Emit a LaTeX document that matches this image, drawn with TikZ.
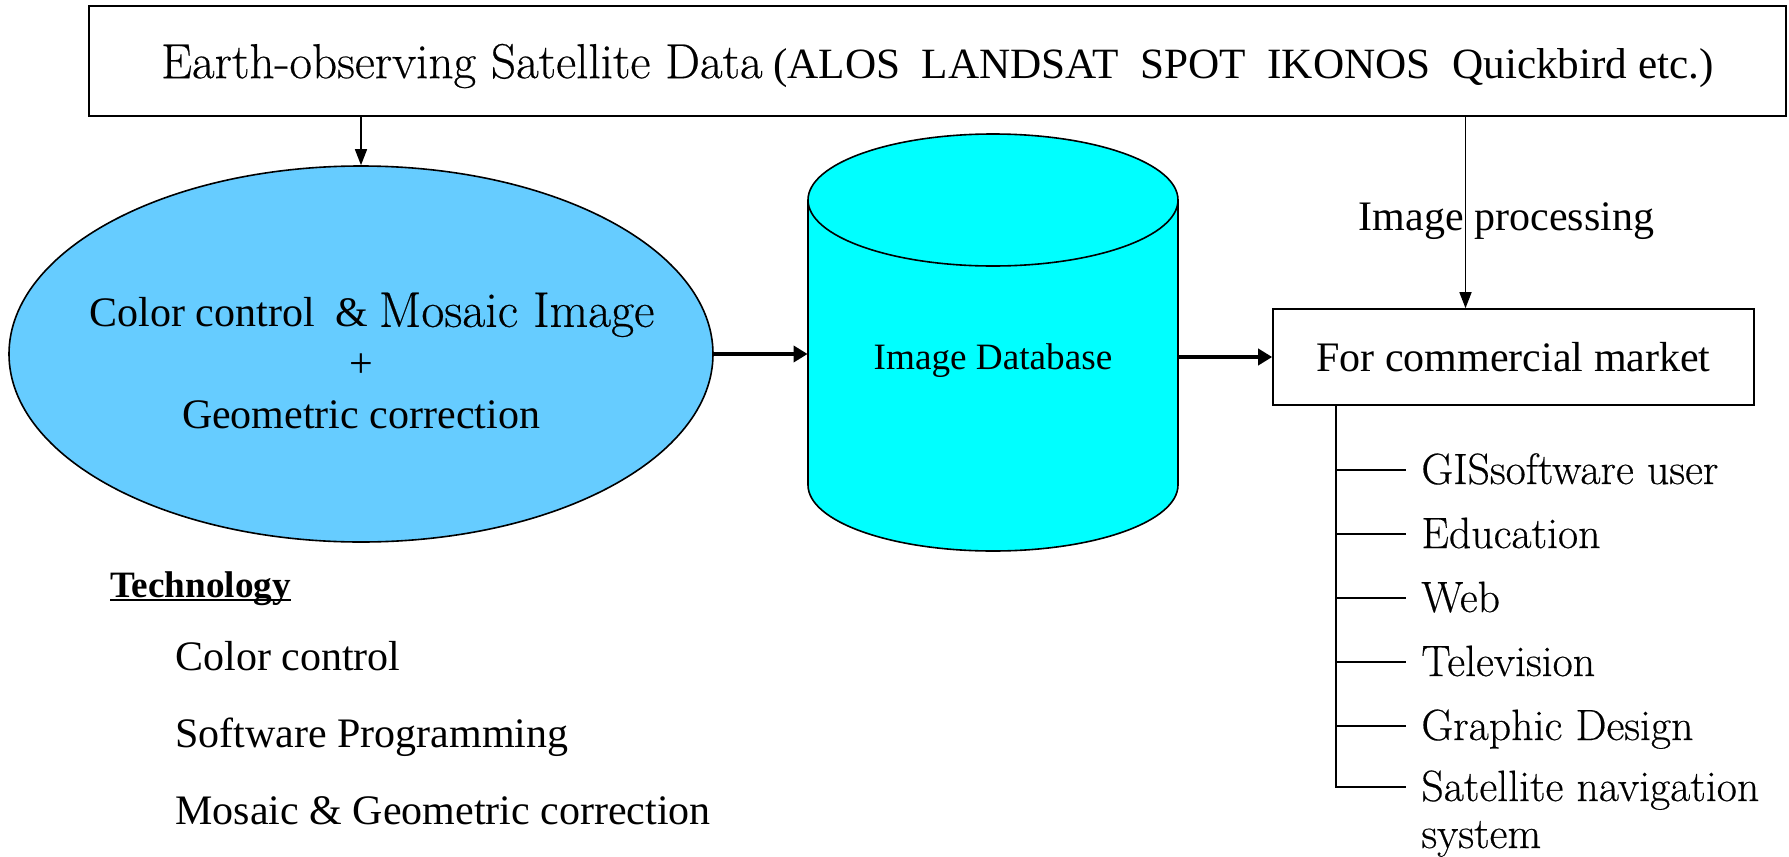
\documentclass[tikz,border=0pt]{standalone}
\usepackage{fontspec}
\usetikzlibrary{shapes.geometric,arrows.meta}
\newfontfamily\tms{Liberation Serif}
\newfontfamily\wide[FakeBold=0.4]{Latin Modern Roman}
\definecolor{ovalblue}{HTML}{66CCFF}
\definecolor{dbcyan}{HTML}{00FFFF}
\newcommand\techul[1]{\setbox0=\hbox{#1}\rlap{\rule[-2pt]{\wd0}{1pt}}\box0}

\begin{document}
\begin{tikzpicture}
  [x=0.5pt,y=-0.5pt,
   box/.style={draw,line width=0.8pt,inner sep=0pt},
   tm/.style={font=\tms\fontsize{21}{25.5}\selectfont},
   lm/.style={font=\wide\fontsize{21.9}{23.5}\selectfont},
   arr/.style={-{Triangle[length=8pt,width=6pt]},line width=0.75pt},
   fat/.style={-{Triangle[length=7pt,width=8pt]},line width=2pt},
   leaf/.style={lm,anchor=west,inner xsep=7.5pt,text height=14pt,text depth=0pt}]
  \useasboundingbox (0,0) rectangle (1789,857);

  \node [box,tm,text depth=0pt,minimum width=848.5pt,minimum height=55pt] (sat) at (937.5,61)
    {{\wide\fontsize{24.6}{27}\selectfont Earth-observing Satellite Data} {\fontsize{21.6}{25}\selectfont(ALOS~~LANDSAT~~SPOT~~IKONOS~~Quickbird etc.)}};
  \node [ellipse,draw,fill=ovalblue,line width=0.8pt,minimum width=352pt,minimum height=188pt,inner sep=0pt,
         label={[tm,align=center,yshift=-3.5pt]center:\hspace*{11pt}Color control~~\& {\wide\fontsize{25}{25.5}\selectfont Mosaic Image}\\+\\Geometric correction}]
    (mos) at (361,354) {};

  % database drum
  \fill [dbcyan] (808,200) -- (808,485) arc [start angle=180,end angle=360,x radius=92.5pt,y radius=33pt]
    -- (1178,200) -- cycle;
  \draw [line width=0.8pt] (808,200) -- (808,485) arc [start angle=180,end angle=360,x radius=92.5pt,y radius=33pt]
    -- (1178,200);
  \draw [fill=dbcyan,line width=0.8pt] (993,200) ellipse [x radius=92.5pt,y radius=33pt];
  \node [font=\tms\fontsize{18.6}{22}\selectfont,text depth=0pt,minimum width=185pt,inner sep=0pt] (db) at (993,357) {Image Database};

  \node [box,tm,minimum width=240.5pt,minimum height=48pt] (mk) at (1513.5,357) {For commercial market};

  \draw [arr] (mos.north |- sat.south) -- (mos.north);
  \draw [arr] ([xshift=-24pt]mk.north |- sat.south) -- node [tm,xshift=20.5pt,yshift=-4.5pt] {Image processing} ([xshift=-24pt]mk.north);
  \draw [fat] (mos.east) -- (mos.east -| db.west);
  \draw [fat] (db.east) -- (mk.west);

  \node [leaf] (gis) at (1406,470) {GISsoftware user};
  \node [leaf] (edu) at (1406,534) {Education};
  \node [leaf] (web) at (1406,598) {Web};
  \node [leaf] (tv) at (1406,662) {Television};
  \node [leaf] (gd) at (1406,726) {Graphic Design};
  \node [leaf] (nav) at (1406,787) {\vtop{\hbox{Satellite navigation}\hbox{system}}};

  \foreach \n in {gis,edu,web,tv,gd,nav}
    \draw [line width=0.8pt] ([xshift=32pt]mk.south west) |- (\n.west);

  \node [anchor=base west,inner sep=0pt,font=\tms\bfseries\fontsize{18.6}{22}\selectfont] (tech) at (110,597) {\techul{Technology}};
  \node [tm,anchor=base west,inner sep=0pt] (cc) at (175,670) {Color control};
  \node [tm,anchor=base west,inner sep=0pt] (swp) at (175,747) {Software Programming};
  \node [tm,anchor=base west,inner sep=0pt] (mgc) at (175,824) {Mosaic \& Geometric correction};

\end{tikzpicture}
\end{document}
